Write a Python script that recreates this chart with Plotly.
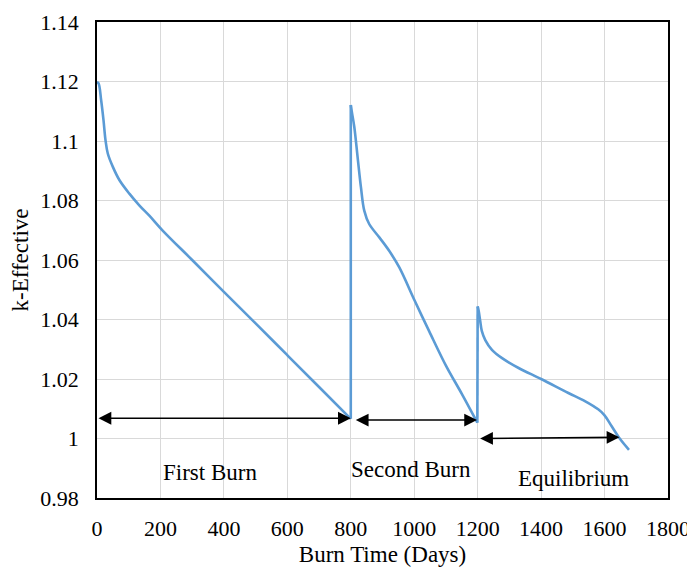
import plotly.graph_objects as go

# Burn time (days) and k-effective values, per burn cycle
days_first = [0, 4.7, 13, 20.5, 26.8, 34, 50, 71, 102, 134, 165, 207, 300, 400, 500, 600, 700, 800]
keff_first = [1.1197, 1.1194, 1.1138, 1.107, 1.1003, 1.0958, 1.0913, 1.0868, 1.0823, 1.0783, 1.0749,
              1.0699, 1.0600, 1.0493, 1.0387, 1.0280, 1.0173, 1.0066]

days_second = [800, 803, 811, 821.5, 832, 842.5, 858, 890, 921, 953, 1002, 1047, 1100, 1150, 1199]
keff_second = [1.1121, 1.1100, 1.1048, 1.0946, 1.0845, 1.0766, 1.0721, 1.0676, 1.0631, 1.0575,
               1.0462, 1.0361, 1.0245, 1.0150, 1.0053]

days_equil = [1200, 1203, 1208, 1213, 1224, 1245, 1277, 1329, 1400, 1486, 1538, 1580, 1600, 1622,
              1649, 1677]
keff_equil = [1.0444, 1.0430, 1.0395, 1.0362, 1.0331, 1.0298, 1.0270, 1.0237, 1.0200, 1.0153,
              1.0126, 1.0098, 1.0078, 1.0042, 0.9998, 0.9962]

# Phase arrows: (start day, end day, start k, end k)
arrow_x0 = [0, 811, 1203]
arrow_x1 = [800, 1198, 1647]
arrow_y0 = [1.0068, 1.0062, 1.0000]
arrow_y1 = [1.0068, 1.0062, 1.0004]

# Phase labels
label_text = ["First Burn", "Second Burn", "Equilibrium"]
label_x = [357, 991, 1501]
label_y = [0.9887, 0.9895, 0.9865]

x_ticks = [0, 200, 400, 600, 800, 1000, 1200, 1400, 1600, 1800]
y_ticks = [0.98, 1.0, 1.02, 1.04, 1.06, 1.08, 1.1, 1.12, 1.14]
y_tick_text = ["0.98", "1", "1.02", "1.04", "1.06", "1.08", "1.1", "1.12", "1.14"]

FONT = "Times New Roman, Liberation Serif, serif"
LINE_COLOR = "#5B9BD5"

fig = go.Figure()
cycles = [(days_first, keff_first), (days_second, keff_second), (days_equil, keff_equil)]
for dx, ky in cycles:
    fig.add_trace(go.Scatter(x=dx, y=ky, mode="lines",
                             line=dict(color=LINE_COLOR, width=2.6, shape="spline", smoothing=1.0),
                             showlegend=False, hoverinfo="x+y"))
# vertical refuelling jumps: end of one cycle to start of the next
for (dA, kA), (dB, kB) in zip(cycles[:-1], cycles[1:]):
    fig.add_trace(go.Scatter(x=[dA[-1], dB[0]], y=[kA[-1], kB[0]], mode="lines",
                             line=dict(color=LINE_COLOR, width=2.6),
                             showlegend=False, hoverinfo="skip"))

annotations = []
for x0, x1, y0, y1 in zip(arrow_x0, arrow_x1, arrow_y0, arrow_y1):
    annotations.append(dict(
        x=x1, y=y1, ax=x0, ay=y0, xref="x", yref="y", axref="x", ayref="y",
        text="", showarrow=True, arrowside="end+start",
        arrowhead=2, startarrowhead=2, arrowsize=1.6, startarrowsize=1.6,
        arrowwidth=1.6, arrowcolor="black", standoff=0, startstandoff=0))
for t, x, y in zip(label_text, label_x, label_y):
    annotations.append(dict(x=x, y=y, xref="x", yref="y", text=t, showarrow=False,
                            font=dict(family=FONT, size=23, color="black")))

# page body has an 8px margin, so the figure is sized to fill the rest of the window
fig.update_layout(
    width=687, height=563,
    margin=dict(l=89, r=27, t=14, b=73),
    paper_bgcolor="white", plot_bgcolor="white",
    font=dict(family=FONT, size=22, color="black"),
    annotations=annotations,
    xaxis=dict(range=[0, 1800], tickvals=x_ticks, showgrid=True, gridcolor="#d9d9d9",
               gridwidth=1, showline=True, linecolor="black", linewidth=1.5, mirror=True,
               zeroline=False, ticks="", ticklabelstandoff=10, automargin=False,
               tickfont=dict(family=FONT, size=22, color="black"),
               title=dict(text="Burn Time (Days)", standoff=6,
                          font=dict(family=FONT, size=23, color="black"))),
    yaxis=dict(range=[0.98, 1.14], tickvals=y_ticks, ticktext=y_tick_text, showgrid=True,
               gridcolor="#d9d9d9", gridwidth=1, showline=True, linecolor="black",
               linewidth=1.5, mirror=True, zeroline=False, ticks="", ticklabelstandoff=12,
               automargin=False,
               tickfont=dict(family=FONT, size=22, color="black"),
               title=dict(text="k-Effective", standoff=6,
                          font=dict(family=FONT, size=23, color="black"))),
)

fig.write_html("out.html")
